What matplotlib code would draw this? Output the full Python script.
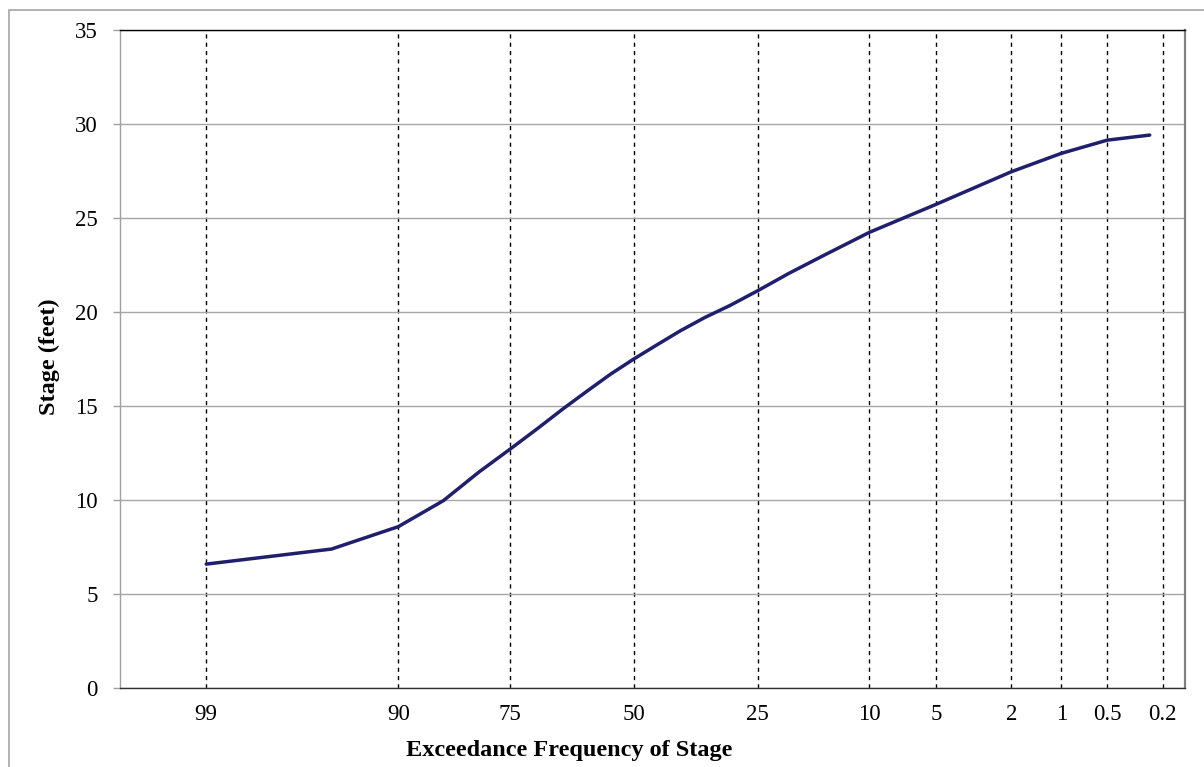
import matplotlib.pyplot as plt
import numpy as np
from statistics import NormalDist
from matplotlib.patches import Rectangle

# Stage-frequency curve: exceedance frequency (percent) vs stage (feet)
exceedance = [99, 95, 90, 85, 80, 75, 70, 65, 60, 55, 50, 45, 40, 35, 30,
              25, 20, 15, 10, 5, 2, 1, 0.5, 0.25]
stage = [6.60, 7.40, 8.59, 9.97, 11.50, 12.70, 13.80, 14.85, 15.80, 16.70,
         17.50, 18.25, 19.00, 19.70, 20.35, 21.13, 22.04, 23.02, 24.23,
         25.72, 27.45, 28.43, 29.13, 29.40]

freq_ticks = [99, 90, 75, 50, 25, 10, 5, 2, 1, 0.5, 0.2]
freq_labels = ["99", "90", "75", "50", "25", "10", "5", "2", "1", "0.5", "0.2"]
stage_ticks = [0, 5, 10, 15, 20, 25, 30, 35]

_nd = NormalDist()
_ppf = np.vectorize(lambda v: _nd.inv_cdf(v / 100.0), otypes=[float])
_cdf = np.vectorize(lambda v: 100.0 * _nd.cdf(v), otypes=[float])


# normal probability scale for the exceedance axis
def _fwd(p):
    p = np.clip(np.asarray(p, dtype=float), 1e-7, 100 - 1e-7)
    return _ppf(p)


def _inv(z):
    return _cdf(np.asarray(z, dtype=float))


W, H = 1204, 767
fig = plt.figure(figsize=(W / 100, H / 100), dpi=100)
fig.patch.set_facecolor("white")

# thin outer frame around the chart area
fig.patches.append(Rectangle((9 / W, -0.1), 1.2, 1 - 9.5 / H + 0.1,
                             transform=fig.transFigure, fill=False,
                             edgecolor="#a6a6a6", lw=1.2))

ax = fig.add_axes([120 / W, 1 - 688.3 / H, 1065 / W, 658.6 / H])
ax.set_xscale("function", functions=(_fwd, _inv))
ax.set_xlim(99.741, 0.1354)
ax.set_ylim(0, 35)

ax.plot(exceedance, stage, color="#1f1f6e", lw=2.5, solid_capstyle="round",
        solid_joinstyle="round", zorder=3)

ax.set_xticks(freq_ticks)
ax.set_xticklabels(freq_labels)
ax.set_yticks(stage_ticks)
ax.minorticks_off()

serif = "Liberation Serif"
ax.tick_params(axis="x", length=0, pad=11, labelsize=16.5, labelfontfamily=serif)
ax.tick_params(axis="y", length=5, width=1, color="#a0a0a0", pad=11,
               labelsize=16.5, labelfontfamily=serif)

ax.grid(axis="y", color="#a6a6a6", lw=1, ls="-")
ax.grid(axis="x", color="black", lw=1, ls=(0, (3, 3)))
ax.set_axisbelow(True)

ax.spines["top"].set_color("black")
ax.spines["bottom"].set_color("#303030")
ax.spines["left"].set_color("#a0a0a0")
ax.spines["right"].set_color("#808080")
ax.spines["right"].set_linewidth(1.6)
for s in ["top", "bottom", "left"]:
    ax.spines[s].set_linewidth(1)

ax.set_xlabel("Exceedance Frequency of Stage", fontsize=17.5,
              fontweight="bold", family=serif, va="center")
ax.set_ylabel("Stage (feet)", fontsize=17.5, fontweight="bold", family=serif,
              va="center")
ax.xaxis.set_label_coords(0.422, -0.0937)
ax.yaxis.set_label_coords(-0.066, 0.504)

fig.savefig("out.png", dpi=100)
